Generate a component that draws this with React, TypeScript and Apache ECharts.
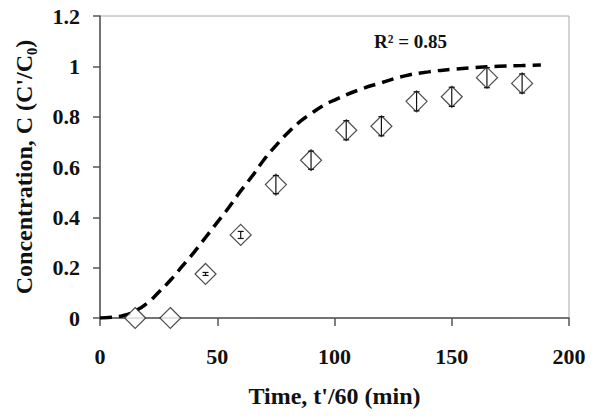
import React, { useEffect, useRef } from "react";
import * as echarts from "echarts";

const timePoints = [15, 30, 45, 60, 75, 90, 105, 120, 135, 150, 165, 180];
const measured = [0, 0, 0.175, 0.33, 0.53, 0.627, 0.746, 0.762, 0.861, 0.879, 0.955, 0.932];
const errorHalf = [0, 0, 0.006, 0.014, 0.036, 0.036, 0.038, 0.038, 0.038, 0.038, 0.04, 0.038];

const modelX = [0, 5, 10, 15, 20, 25, 30, 35, 40, 45, 50, 55, 60, 65, 70, 75, 80, 85, 90, 95, 100, 110, 120, 130, 140, 150, 160, 170, 180, 188];
const modelY = [0, 0.003, 0.01, 0.028, 0.058, 0.102, 0.15, 0.205, 0.26, 0.32, 0.38, 0.44, 0.505, 0.565, 0.63, 0.685, 0.735, 0.778, 0.812, 0.843, 0.866, 0.905, 0.935, 0.962, 0.978, 0.988, 0.995, 1.0, 1.003, 1.005];

const yTicks = { min: 0, max: 1.2, interval: 0.2 };
const xTicks = { min: 0, max: 200, interval: 50 };
const annotation = "R² = 0.85";

const FONT = "'Liberation Serif', 'Times New Roman', serif";

export default function App() {
  const ref = useRef<HTMLDivElement>(null);
  useEffect(() => {
    if (!ref.current) return;
    const chart = echarts.init(ref.current, null, { renderer: "svg" });
    const axisLabel = { fontFamily: FONT, fontWeight: "bold" as const, fontSize: 22, color: "#111" };
    chart.setOption({
      animation: false,
      backgroundColor: "#fff",
      grid: { left: 100, right: 31, top: 16, bottom: 102, show: true, borderColor: "#a8a8a8", borderWidth: 1 },
      xAxis: {
        type: "value",
        min: xTicks.min,
        max: xTicks.max,
        interval: xTicks.interval,
        name: "Time, t'/60 (min)",
        nameLocation: "middle",
        nameGap: 66,
        nameTextStyle: { ...axisLabel, fontSize: 24 },
        axisLine: { show: true, onZero: false, lineStyle: { color: "#555", width: 1.5 } },
        axisTick: { show: true, length: 8, lineStyle: { color: "#555", width: 1.5 } },
        axisLabel: { ...axisLabel, margin: 27 },
        splitLine: { show: false },
      },
      yAxis: {
        type: "value",
        min: yTicks.min,
        max: yTicks.max,
        interval: yTicks.interval,
        name: "Concentration, C (C'/C₀)",
        nameLocation: "middle",
        nameGap: 64,
        nameTextStyle: { ...axisLabel, fontSize: 24 },
        axisLine: { show: true, lineStyle: { color: "#555", width: 1.5 } },
        axisTick: { show: true, length: 7, lineStyle: { color: "#555", width: 1.5 } },
        axisLabel: { ...axisLabel, margin: 20 },
        splitLine: { show: false },
      },
      series: [
        {
          type: "line",
          data: modelX.map((x, i) => [x, modelY[i]]),
          showSymbol: false,
          smooth: true,
          lineStyle: { color: "#000", width: 3.5, type: [12, 7] },
          z: 2,
        },
        {
          type: "scatter",
          data: timePoints.map((x, i) => [x, measured[i]]),
          symbol: "diamond",
          symbolSize: 21,
          itemStyle: { color: "#fff", borderColor: "#222", borderWidth: 1.2 },
          z: 3,
        },
        {
          type: "custom",
          data: timePoints.map((x, i) => [x, measured[i], errorHalf[i]]),
          z: 4,
          renderItem: (params: any, api: any) => {
            const x = api.value(0);
            const y = api.value(1);
            const e = api.value(2);
            if (!e) return { type: "group", children: [] };
            const top = api.coord([x, y + e]);
            const bot = api.coord([x, y - e]);
            const cw = 3;
            const st = { stroke: "#111", lineWidth: 1.2 };
            return {
              type: "group",
              children: [
                { type: "line", shape: { x1: top[0], y1: top[1], x2: bot[0], y2: bot[1] }, style: st },
                { type: "line", shape: { x1: top[0] - cw, y1: top[1], x2: top[0] + cw, y2: top[1] }, style: st },
                { type: "line", shape: { x1: bot[0] - cw, y1: bot[1], x2: bot[0] + cw, y2: bot[1] }, style: st },
              ],
            };
          },
        },
      ],
      graphic: [
        {
          type: "text",
          left: 374,
          top: 32,
          style: { text: annotation, fontFamily: FONT, fontWeight: "bold", fontSize: 19, fill: "#111" },
        },
      ],
    });
    return () => chart.dispose();
  }, []);
  return <div ref={ref} style={{ width: 600, height: 420, position: "absolute", left: 0, top: 0 }} />;
}
